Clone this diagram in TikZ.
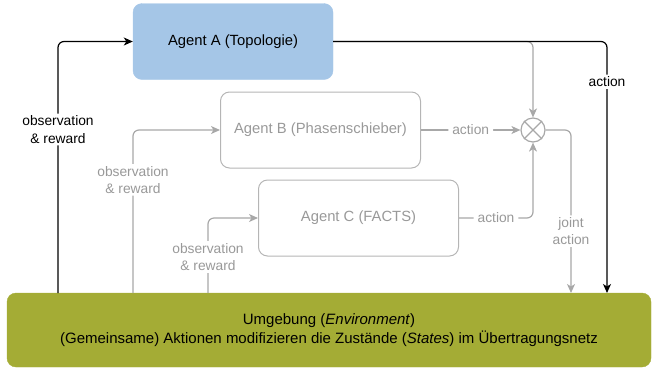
\documentclass[tikz,border=0pt]{standalone}
\usepackage{fontspec}
\setmainfont{Liberation Sans}
\usetikzlibrary{arrows.meta}
\definecolor{agentblue}{HTML}{A5C6E7}
\definecolor{envolive}{HTML}{A4AC35}
\definecolor{lgray}{HTML}{A8A8A8}
\definecolor{tgray}{HTML}{999999}
\definecolor{bgray}{HTML}{B5B5B5}
\begin{document}
\begin{tikzpicture}[x=1pt,y=-1pt,
  agentbox/.style={rounded corners=9pt, minimum width=200pt, minimum height=76pt, inner sep=0pt, font=\fontsize{14.8}{17}\selectfont},
  agentA/.style={agentbox, fill=agentblue, draw=agentblue},
  agentgray/.style={agentbox, draw=bgray, line width=1pt, text=tgray},
  envbox/.style={rounded corners=9pt, fill=envolive, draw=envolive, minimum width=644pt, minimum height=74pt, align=center, font=\fontsize{15}{19.5}\selectfont},
  blk/.style={line width=1.2pt, black, rounded corners=6pt, -{Stealth[length=9pt,width=8pt,inset=2.5pt]}},
  gry/.style={line width=1.2pt, lgray, rounded corners=6pt, -{Stealth[length=9pt,width=8pt,inset=2.5pt]}},
  lbl/.style={fill=white, inner xsep=4pt, inner ysep=2pt, align=center, font=\fontsize{13.8}{17.5}\selectfont},
  glbl/.style={lbl, text=tgray},
  mixer/.style={circle, draw=lgray, line width=1.2pt, minimum size=24pt, inner sep=0pt}
]
\useasboundingbox (0,0) rectangle (652,368);

\node[agentA] (A) at (233,41.5) {Agent A (Topologie)};
\node[agentgray] (B) at (320.5,130) {Agent B (Phasenschieber)};
\node[agentgray] (C) at (358.5,218) {Agent C (FACTS)};
\node[envbox] (env) at (329,330) {Umgebung (\textit{Environment})\\(Gemeinsame) Aktionen modifizieren die Zustände (\textit{States}) im Übertragungsnetz};
\node[mixer] (mix) at (533,130) {};
\draw[lgray, line width=1.2pt] (mix.north east) -- (mix.south west) (mix.north west) -- (mix.south east);

\coordinate (obsA) at (58,293);
\coordinate (obsB) at (133,293);
\coordinate (obsC) at (208,293);
\coordinate (joint) at (571,293);
\coordinate (actA) at (607,293);

% gray connectors
\draw[gry] (A.east) -| (mix.north);
\draw[gry] (B.east) -- node[glbl]{action} (mix.west);
\draw[gry] (C.east) -| node[glbl, pos=0.25]{action} (mix.south);
\draw[gry] (mix.east) -| node[glbl, pos=0.81]{joint\\action} (joint);
\draw[gry] (obsB) |- node[glbl, pos=0.347]{observation\\\& reward} (B.west);
\draw[gry] (obsC) |- node[glbl, pos=0.24]{observation\\\& reward} (C.west);

% black connectors
\draw[blk] (obsA) |- node[lbl, pos=0.325]{observation\\\& reward} (A.west);
\draw[blk] (A.east) -| node[lbl, pos=0.58]{action} (actA);
\end{tikzpicture}
\end{document}
